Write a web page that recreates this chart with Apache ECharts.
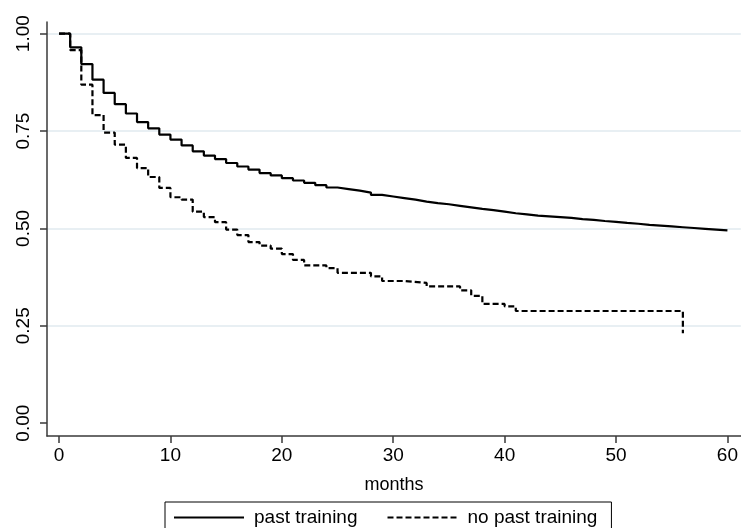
<!DOCTYPE html>
<html>
<head>
<meta charset="utf-8">
<script src="https://cdn.jsdelivr.net/npm/echarts@6/dist/echarts.min.js"></script>
<style>
  html, body { margin: 0; padding: 0; background: #fff; }
  #chart { width: 741px; height: 528px; }
</style>
</head>
<body>
<div id="chart"></div>
<script>
// survival estimates, one value per event time
var pastMonths = [0, 1, 2, 3, 4, 5, 6, 7, 8, 9, 10, 11, 12, 13, 14, 15, 16, 17, 18, 19, 20,
  21, 22, 23, 24, 25, 26, 27, 28, 29, 30, 31, 32, 33, 34, 35, 36, 37, 38, 39, 40,
  41, 42, 43, 44, 45, 46, 47, 48, 49, 50, 51, 52, 53, 54, 55, 56, 57, 58, 59, 60];
var pastSurv = [1.0, 0.965, 0.922, 0.882, 0.848, 0.819, 0.795, 0.773, 0.757, 0.741, 0.728,
  0.713, 0.698, 0.687, 0.678, 0.668, 0.659, 0.651, 0.642, 0.636, 0.629,
  0.623, 0.617, 0.611, 0.605, 0.601, 0.597, 0.592, 0.586, 0.582, 0.578,
  0.574, 0.569, 0.565, 0.562, 0.558, 0.554, 0.550, 0.547, 0.543, 0.539,
  0.536, 0.533, 0.531, 0.529, 0.527, 0.524, 0.522, 0.519, 0.517, 0.514,
  0.512, 0.509, 0.507, 0.505, 0.503, 0.501, 0.499, 0.497, 0.495, 0.494];

var noPastMonths = [0, 1, 2, 3, 4, 5, 6, 7, 8, 9, 10, 11, 12, 13, 14, 15, 16, 17, 18, 19, 20,
  21, 22, 24, 25, 28, 29, 31, 33, 36, 37, 38, 40, 41, 56];
var noPastSurv = [1.0, 0.958, 0.869, 0.791, 0.746, 0.715, 0.681, 0.655, 0.632, 0.604, 0.580,
  0.574, 0.543, 0.529, 0.516, 0.497, 0.483, 0.465, 0.456, 0.448, 0.434,
  0.419, 0.405, 0.398, 0.386, 0.377, 0.365, 0.360, 0.351, 0.341, 0.327,
  0.306, 0.300, 0.288, 0.231];

var xTicks = [0, 10, 20, 30, 40, 50, 60];
var yTicks = [0, 0.25, 0.5, 0.75, 1];

function pairs(xs, ys) {
  return xs.map(function (x, i) { return [x, ys[i]]; });
}

var chart = echarts.init(document.getElementById("chart"));
var font = "'Liberation Sans', Arial, sans-serif";
var axisColor = "#3a3a3a";

chart.setOption({
  animation: false,
  backgroundColor: "#fff",
  grid: { left: 47, right: 0, top: 22, bottom: 92, containLabel: false },
  xAxis: {
    type: "value",
    min: -1.08,
    max: 61.2,
    name: "months",
    nameLocation: "middle",
    nameGap: 40,
    nameTextStyle: { color: "#000", fontSize: 18, fontFamily: font },
    axisLine: { onZero: false, lineStyle: { color: axisColor, width: 1.5 } },
    axisTick: { customValues: xTicks, length: 7, lineStyle: { color: axisColor, width: 1.5 } },
    axisLabel: { customValues: xTicks, margin: 10, color: "#000", fontSize: 19, fontFamily: font },
    splitLine: { show: false }
  },
  yAxis: {
    type: "value",
    min: -0.033,
    max: 1.03,
    axisLine: { show: true, onZero: false, lineStyle: { color: axisColor, width: 1.5 } },
    axisTick: { show: true, customValues: yTicks, length: 7, lineStyle: { color: axisColor, width: 1.5 } },
    axisLabel: {
      customValues: yTicks, rotate: 90, margin: 14, color: "#000", fontSize: 19, fontFamily: font,
      formatter: function (v) { return v.toFixed(2); }
    },
    splitLine: {
      show: true,
      lineStyle: { color: ["rgba(0,0,0,0)", "#e8eff3", "#e8eff3", "#e8eff3", "#e8eff3"], width: 2 }
    }
  },
  legend: {
    left: 165,
    top: 502,
    orient: "horizontal",
    padding: [6, 14, 8, 8],
    itemGap: 29,
    itemWidth: 70,
    itemHeight: 14,
    borderColor: "#000",
    borderWidth: 1,
    borderRadius: 0,
    itemStyle: { color: "rgba(0,0,0,0)", borderWidth: 0, opacity: 0 },
    textStyle: { color: "#000", fontSize: 19, fontFamily: font, padding: [0, 0, 0, 5] },
    data: ["past training", "no past training"]
  },
  series: [
    {
      name: "past training",
      type: "line",
      step: "end",
      symbol: "none",
      data: pairs(pastMonths, pastSurv),
      lineStyle: { color: "#000", width: 2.2 },
      itemStyle: { color: "#000" }
    },
    {
      name: "no past training",
      type: "line",
      step: "end",
      symbol: "none",
      data: pairs(noPastMonths, noPastSurv),
      lineStyle: { color: "#000", width: 2.2, type: [6, 3] },
      itemStyle: { color: "#000" }
    }
  ]
});
</script>
</body>
</html>
